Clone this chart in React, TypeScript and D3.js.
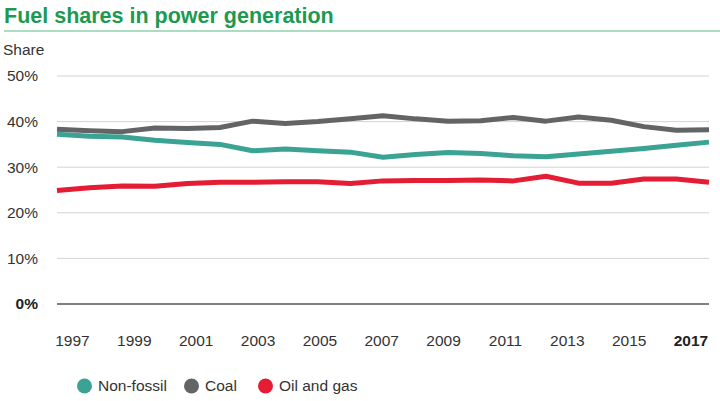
import { useEffect, useRef } from "react";
import * as d3 from "d3";

const years = d3.range(1997, 2018);
const nonFossil = [37.2, 36.8, 36.6, 35.9, 35.4, 35.0, 33.6, 34.0, 33.6, 33.3, 32.2, 32.8, 33.2, 33.0, 32.5, 32.3, 32.9, 33.5, 34.1, 34.8, 35.5];
const coal = [38.3, 38.0, 37.8, 38.6, 38.5, 38.7, 40.1, 39.6, 40.0, 40.6, 41.3, 40.6, 40.1, 40.2, 40.9, 40.1, 41.0, 40.3, 38.9, 38.1, 38.2];
const oilGas = [24.9, 25.5, 25.9, 25.8, 26.4, 26.7, 26.7, 26.8, 26.8, 26.4, 27.0, 27.1, 27.1, 27.2, 27.0, 28.0, 26.5, 26.5, 27.4, 27.4, 26.7];
const yTicks = [0, 10, 20, 30, 40, 50];
const xTicks = [1997, 1999, 2001, 2003, 2005, 2007, 2009, 2011, 2013, 2015, 2017];
const seriesNames = ["Non-fossil", "Coal", "Oil and gas"];
const seriesColors = ["#3aa393", "#636466", "#e41d34"];

export default function App() {
  const svgRef = useRef(null);
  const width = 720;
  const height = 401;

  useEffect(() => {
    const svg = d3.select(svgRef.current);
    svg.selectAll("*").remove();
    const font = "'Liberation Sans', Arial, sans-serif";
    const fs = "15.5px";

    const x = d3.scaleLinear().domain([1997, 2017]).range([57, 709]);
    // tick labels are spread edge-to-edge under the plot
    const xLab = d3.scaleLinear().domain([1997, 2017]).range([72.5, 691]);
    const y = d3.scaleLinear().domain([0, 50]).range([304, 76]);

    // title
    svg.append("text")
      .attr("x", 4).attr("y", 23)
      .style("font-family", font).style("font-weight", "700").style("font-size", "21.5px")
      .style("fill", "#1c9a50")
      .text("Fuel shares in power generation");
    svg.append("line")
      .attr("x1", 4).attr("x2", 720).attr("y1", 31).attr("y2", 31)
      .style("stroke", "#8fd0ad").style("stroke-width", 1.5);

    svg.append("text")
      .attr("x", 3).attr("y", 55)
      .style("font-family", font).style("font-size", fs).style("fill", "#333")
      .text("Share");

    // grid + y labels
    const grid = svg.append("g");
    yTicks.forEach(t => {
      grid.append("line")
        .attr("x1", 57).attr("x2", 709).attr("y1", y(t)).attr("y2", y(t))
        .style("stroke", t === 0 ? "#555" : "#d3d3d3").style("stroke-width", t === 0 ? 1.3 : 1);
      grid.append("text")
        .attr("x", 38).attr("y", y(t)).attr("dy", "0.35em")
        .attr("text-anchor", "end")
        .style("font-family", font).style("font-size", fs)
        .style("font-weight", t === 0 ? "700" : "400")
        .style("fill", t === 0 ? "#222" : "#333")
        .text(`${t}%`);
    });

    // x labels
    xTicks.forEach(t => {
      svg.append("text")
        .attr("x", xLab(t)).attr("y", 346)
        .attr("text-anchor", "middle")
        .style("font-family", font).style("font-size", fs)
        .style("font-weight", t === 2017 ? "700" : "400")
        .style("fill", t === 2017 ? "#222" : "#333")
        .text(String(t));
    });

    const line = d3.line<number>()
      .x((_, i) => x(years[i]))
      .y(d => y(d));

    [nonFossil, coal, oilGas].forEach((s, i) => {
      svg.append("path")
        .datum(s)
        .attr("d", line)
        .style("fill", "none")
        .style("stroke", seriesColors[i])
        .style("stroke-width", 5)
        .style("stroke-linejoin", "round");
    });

    // legend
    const legendX = [84.5, 191.5, 265.5];
    seriesNames.forEach((n, i) => {
      svg.append("circle")
        .attr("cx", legendX[i]).attr("cy", 386).attr("r", 7.5)
        .style("fill", seriesColors[i]);
      svg.append("text")
        .attr("x", legendX[i] + 13.5).attr("y", 386).attr("dy", "0.35em")
        .style("font-family", font).style("font-size", fs).style("fill", "#333")
        .text(n);
    });
  }, []);

  return (
    <div style={{ position: "absolute", left: 0, top: 0 }}>
      <svg ref={svgRef} width={width} height={height} style={{ display: "block" }}></svg>
    </div>
  );
}
